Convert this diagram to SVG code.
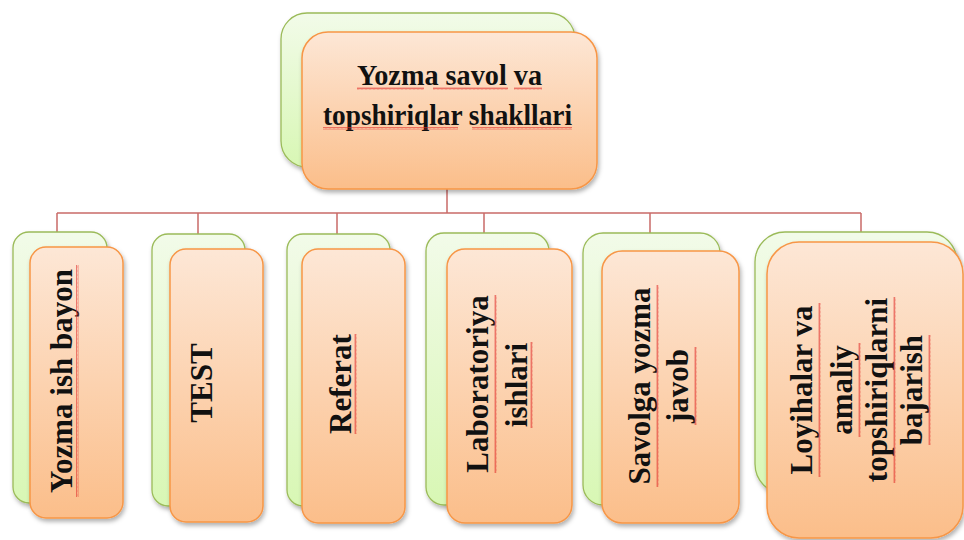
<svg xmlns="http://www.w3.org/2000/svg" width="964" height="540" viewBox="0 0 964 540">
<defs>
<linearGradient id="gOr" x1="0" y1="0" x2="0" y2="1">
<stop offset="0" stop-color="#FDE7D6"/>
<stop offset="1" stop-color="#FBBE8A"/>
</linearGradient>
<linearGradient id="gGr" x1="0" y1="0" x2="0" y2="1">
<stop offset="0" stop-color="#F2FBE9"/>
<stop offset="1" stop-color="#D8F7B4"/>
</linearGradient>
<filter id="sh" x="-20%" y="-20%" width="140%" height="140%">
<feDropShadow dx="1.5" dy="3" stdDeviation="2" flood-color="#000" flood-opacity="0.3"/>
</filter>
<pattern id="wave" width="4" height="3" patternUnits="userSpaceOnUse">
<polyline points="0,2.5 1,0.5 2,2.5 3,0.5 4,2.5" fill="none" stroke="#E0302E" stroke-width="0.6"/>
</pattern>
</defs>
<style>
.back{fill:url(#gGr);stroke:#9BBB59;stroke-width:1.3;filter:url(#sh)}
.front{fill:url(#gOr);stroke:#F79646;stroke-width:1.5;filter:url(#sh)}
.t{font-family:"Liberation Serif","Times New Roman",serif;font-weight:bold;font-size:31px;fill:#111;text-anchor:middle}
.w{fill:url(#wave)}
.con{fill:none;stroke:#C0504D;stroke-width:1.5;stroke-opacity:0.85}
</style>

<g id="connectors">
<path class="con" d="M447,189 V213 M57,213 H861 M57,213 V233 M198,213 V235 M337,213 V242 M484,213 V235 M650,213 V235 M861,213 V235"/>
</g>

<g id="root">
<rect class="back" x="281" y="13" width="294" height="154" rx="26"/>
<rect class="front" x="302" y="32" width="295" height="157" rx="26"/>
<text class="t" x="449.5" y="85" style="font-size:30px" textLength="185" lengthAdjust="spacingAndGlyphs">Yozma savol va</text>
<text class="t" x="447.5" y="125" style="font-size:30px" textLength="249" lengthAdjust="spacingAndGlyphs">topshiriqlar  shakllari</text>
<rect class="w" x="357" y="87" width="67" height="3"/>
<rect class="w" x="433" y="87" width="75" height="3"/>
<rect class="w" x="514" y="87" width="28" height="3"/>
<rect class="w" x="323" y="127" width="135" height="3"/>
<rect class="w" x="472" y="127" width="100" height="3"/>
</g>

<g id="n1">
<rect class="back" x="13" y="232" width="94" height="271" rx="16"/>
<rect class="front" x="30" y="247" width="93" height="271" rx="16"/>
<g transform="translate(72,381) rotate(-90)">
<text class="t" x="0" y="0">Yozma ish bayon</text>
<rect class="w" x="-116" y="4" width="232" height="3"/>
</g>
</g>

<g id="n2">
<rect class="back" x="152" y="234" width="93" height="272" rx="16"/>
<rect class="front" x="170" y="249" width="93" height="273" rx="16"/>
<g transform="translate(212,383) rotate(-90)">
<text class="t" x="0" y="0">TEST</text>
</g>
</g>

<g id="n3">
<rect class="back" x="287" y="234" width="103" height="272" rx="16"/>
<rect class="front" x="302" y="249" width="103" height="274" rx="16"/>
<g transform="translate(351,384) rotate(-90)">
<text class="t" x="0" y="0">Referat</text>
<rect class="w" x="-50" y="3" width="100" height="3"/>
</g>
</g>

<g id="n4">
<rect class="back" x="426" y="233" width="123" height="272" rx="18"/>
<rect class="front" x="447" y="249" width="125" height="274" rx="18"/>
<g transform="translate(488,384) rotate(-90)">
<text class="t" x="0" y="0">Laboratoriya</text>
<rect class="w" x="-89" y="6" width="178" height="3"/>
</g>
<g transform="translate(527,385) rotate(-90)">
<text class="t" x="0" y="0">ishlari</text>
<rect class="w" x="-43" y="3" width="86" height="3"/>
</g>
</g>

<g id="n5">
<rect class="back" x="583" y="233" width="137" height="272" rx="20"/>
<rect class="front" x="602" y="251" width="137" height="272" rx="20"/>
<g transform="translate(650,386) rotate(-90)">
<text class="t" x="0" y="0">Savolga yozma</text>
<rect class="w" x="-101" y="6" width="202" height="3"/>
</g>
<g transform="translate(688,386) rotate(-90)">
<text class="t" x="0" y="0">javob</text>
<rect class="w" x="-39" y="6" width="78" height="3"/>
</g>
</g>

<g id="n6">
<rect class="back" x="755" y="232" width="202" height="262" rx="30"/>
<rect class="front" x="767" y="242" width="196" height="296" rx="32"/>
<g transform="translate(812,390) rotate(-90)">
<text class="t" x="0" y="0">Loyihalar va</text>
<rect class="w" x="-87" y="6" width="174" height="3"/>
</g>
<g transform="translate(852,390) rotate(-90)">
<text class="t" x="0" y="0">amaliy</text>
<rect class="w" x="-47" y="6" width="94" height="3"/>
</g>
<g transform="translate(887,390) rotate(-90)">
<text class="t" x="0" y="0">topshiriqlarni</text>
<rect class="w" x="-93" y="6" width="186" height="3"/>
</g>
<g transform="translate(922,390) rotate(-90)">
<text class="t" x="0" y="0">bajarish</text>
<rect class="w" x="-55" y="6" width="110" height="3"/>
</g>
</g>
</svg>
